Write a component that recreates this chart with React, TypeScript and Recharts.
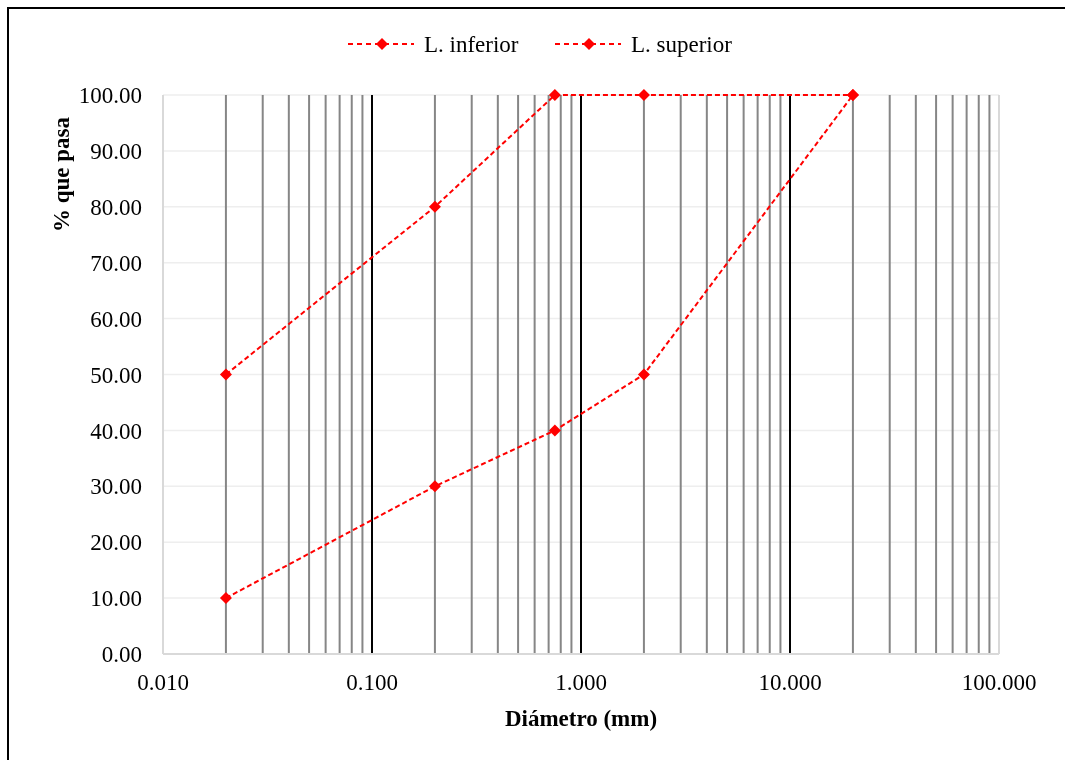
import React from "react";
import {
  LineChart,
  Line,
  XAxis,
  YAxis,
  CartesianGrid,
  ReferenceLine,
} from "recharts";

// sieve sizes (mm) and % passing for both limits
const diam = [0.02, 0.2, 0.75, 2, 20];
const inferior = [10, 30, 40, 50, 100];
const superior = [50, 80, 100, 100, 100];

const xTicks = [0.01, 0.1, 1, 10, 100];
const yTicks = [0, 10, 20, 30, 40, 50, 60, 70, 80, 90, 100];

// log grid lines
const minorGrid = [
  0.02, 0.03, 0.04, 0.05, 0.06, 0.07, 0.08, 0.09,
  0.2, 0.3, 0.4, 0.5, 0.6, 0.7, 0.8, 0.9,
  2, 3, 4, 5, 6, 7, 8, 9,
  20, 30, 40, 50, 60, 70, 80, 90,
];
const majorGrid = [0.1, 1, 10];
const edgeGrid = [100];

const seriesNames = ["L. inferior", "L. superior"];

const data = diam.map((d, i) => ({ d, inf: inferior[i], sup: superior[i] }));

const FONT = "'Liberation Serif', 'Times New Roman', serif";
const RED = "#ff0000";

const Diamond = (props: any) => {
  const { cx, cy } = props;
  if (cx == null || cy == null) return null;
  const r = 6;
  return (
    <polygon
      key={`${cx}-${cy}`}
      points={`${cx},${cy - r} ${cx + r},${cy} ${cx},${cy + r} ${cx - r},${cy}`}
      fill={RED}
    />
  );
};

function LegendOverlay() {
  const items = [
    { x: 340, name: seriesNames[0] },
    { x: 547, name: seriesNames[1] },
  ];
  return (
    <svg
      width={1049}
      height={70}
      style={{ position: "absolute", left: 0, top: 0, pointerEvents: "none" }}
    >
      {items.map((it) => (
        <g key={it.name}>
          <line
            x1={it.x}
            y1={36}
            x2={it.x + 66}
            y2={36}
            stroke={RED}
            strokeWidth={2}
            strokeDasharray="5 4"
          />
          <polygon
            points={`${it.x + 34},30 ${it.x + 40},36 ${it.x + 34},42 ${it.x + 28},36`}
            fill={RED}
          />
          <text x={it.x + 76} y={44} fontSize={23} fontFamily={FONT} fill="#000">
            {it.name}
          </text>
        </g>
      ))}
    </svg>
  );
}

export default function App() {
  return (
    <div
      style={{
        position: "relative",
        width: 1049,
        height: 744,
        background: "#fff",
      }}
    >
      {/* chart frame: only its left and top edges fall inside the picture */}
      <div
        style={{
          position: "fixed",
          left: 7,
          top: 7,
          width: 1200,
          height: 900,
          border: "2px solid #000",
          boxSizing: "border-box",
          pointerEvents: "none",
        }}
      />
      <LineChart
        width={1049}
        height={744}
        data={data}
        margin={{ top: 87, right: 58, bottom: 38, left: 0 }}
      >
        <CartesianGrid vertical={false} stroke="#eeeeee" strokeWidth={1.5} />
        {minorGrid.map((v) => (
          <ReferenceLine key={`m${v}`} x={v} stroke="#868686" strokeWidth={2} />
        ))}
        {majorGrid.map((v) => (
          <ReferenceLine key={`M${v}`} x={v} stroke="#000" strokeWidth={2} />
        ))}
        {edgeGrid.map((v) => (
          <ReferenceLine key={`e${v}`} x={v} stroke="#d9d9d9" strokeWidth={2} />
        ))}
        <XAxis
          dataKey="d"
          type="number"
          scale="log"
          domain={[0.01, 100]}
          allowDataOverflow
          ticks={xTicks}
          tickFormatter={(v: number) => v.toFixed(3)}
          tickLine={false}
          tickSize={0}
          tickMargin={20}
          axisLine={{ stroke: "#d9d9d9", strokeWidth: 2 }}
          tick={{ fill: "#000", fontSize: 23, fontFamily: FONT }}
          height={60}
          interval={0}
          label={{
            content: (p: any) => {
              const vb = p.viewBox || {};
              return (
                <text
                  x={vb.x + vb.width / 2}
                  y={vb.y + 72}
                  textAnchor="middle"
                  fontSize={23}
                  fontWeight="bold"
                  fontFamily={FONT}
                  fill="#000"
                >
                  Diámetro (mm)
                </text>
              );
            },
          }}
        />
        <YAxis
          type="number"
          domain={[0, 100]}
          ticks={yTicks}
          interval={0}
          tickFormatter={(v: number) => v.toFixed(2)}
          tickLine={false}
          tickSize={0}
          tickMargin={21}
          width={155}
          axisLine={{ stroke: "#d9d9d9", strokeWidth: 2 }}
          tick={{ fill: "#000", fontSize: 23, fontFamily: FONT }}
          label={{
            content: (p: any) => {
              const vb = p.viewBox || {};
              const x = vb.x + 61;
              const y = 166.5;
              return (
                <text
                  x={x}
                  y={y}
                  transform={`rotate(-90 ${x} ${y})`}
                  textAnchor="middle"
                  fontSize={23}
                  fontWeight="bold"
                  fontFamily={FONT}
                  fill="#000"
                >
                  % que pasa
                </text>
              );
            },
          }}
        />
        <Line
          dataKey="inf"
          name={seriesNames[0]}
          type="linear"
          stroke={RED}
          strokeWidth={2}
          strokeDasharray="5 3"
          dot={Diamond}
          activeDot={false}
          isAnimationActive={false}
        />
        <Line
          dataKey="sup"
          name={seriesNames[1]}
          type="linear"
          stroke={RED}
          strokeWidth={2}
          strokeDasharray="5 3"
          dot={Diamond}
          activeDot={false}
          isAnimationActive={false}
        />
      </LineChart>
      <LegendOverlay />
    </div>
  );
}
